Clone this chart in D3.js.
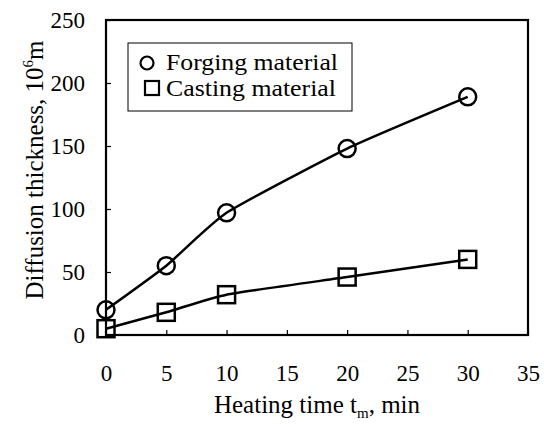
<!DOCTYPE html>
<html lang="en">
<head>
  <meta charset="UTF-8">
  <title>Diffusion thickness</title>
  <script src="https://d3js.org/d3.v7.min.js"></script>
  <style>
    body { margin: 0; background: #fff; }
    text { font-family: "Liberation Serif", "Times New Roman", serif; fill: #000; }
  </style>
</head>
<body>
  <div id="chart"></div>
  <script>
    // Data
    const heatingTime = [0, 5, 10, 20, 30];
    const forging = [20, 55, 97, 148, 189];
    const casting = [5, 18, 32, 46, 60];
    const xTicks = [0, 5, 10, 15, 20, 25, 30, 35];
    const yTicks = [0, 50, 100, 150, 200, 250];

    const W = 544, H = 427;
    const margin = { top: 20, right: 16, bottom: 92, left: 106 };

    const svg = d3.select("#chart").append("svg")
      .attr("width", W)
      .attr("height", H);

    const x = d3.scaleLinear().domain([0, 35]).range([margin.left, W - margin.right]);
    const y = d3.scaleLinear().domain([0, 250]).range([H - margin.bottom, margin.top]);

    // Frame
    svg.append("rect")
      .attr("x", x(0)).attr("y", y(250))
      .attr("width", x(35) - x(0)).attr("height", y(0) - y(250))
      .attr("fill", "none").attr("stroke", "#000").attr("stroke-width", 2.2);

    // Axes with inward ticks
    const xAxis = svg.append("g")
      .attr("transform", `translate(0,${y(0)})`)
      .call(d3.axisBottom(x).tickValues(xTicks).tickSize(-5).tickPadding(30));
    const yAxis = svg.append("g")
      .attr("transform", `translate(${x(0)},0)`)
      .call(d3.axisLeft(y).tickValues(yTicks).tickSize(-5).tickPadding(21));

    [xAxis, yAxis].forEach(g => {
      g.select(".domain").remove();
      g.attr("font-family", null).attr("font-size", null);
      g.selectAll("line").attr("stroke", "#000").attr("stroke-width", 1.2);
      g.selectAll("text")
        .style("font-family", "'Liberation Serif', serif")
        .style("font-size", "23px");
    });

    // Axis titles
    const xTitle = svg.append("text")
      .attr("x", 317).attr("y", 413)
      .attr("text-anchor", "middle")
      .style("font-size", "25px");
    xTitle.append("tspan").text("Heating time t");
    xTitle.append("tspan").attr("dy", 5).style("font-size", "15px").text("m");
    xTitle.append("tspan").attr("dy", -5).text(", min");

    const yTitle = svg.append("text")
      .attr("transform", `translate(43,170) rotate(-90)`)
      .attr("text-anchor", "middle")
      .style("font-size", "25px");
    yTitle.append("tspan").text("Diffusion thickness, 10");
    yTitle.append("tspan").attr("dy", -10).style("font-size", "15px").text("6");
    yTitle.append("tspan").attr("dy", 10).text("m");

    // Smoothed lines
    const line = d3.line()
      .x((d, i) => x(heatingTime[i]))
      .y(d => y(d))
      .curve(d3.curveCardinal.tension(0.5));

    [forging, casting].forEach(series => {
      svg.append("path")
        .datum(series)
        .attr("d", line)
        .attr("fill", "none")
        .attr("stroke", "#000")
        .attr("stroke-width", 2.5);
    });

    // Markers
    svg.selectAll(".circ")
      .data(forging)
      .enter().append("circle")
        .attr("class", "circ")
        .attr("cx", (d, i) => x(heatingTime[i]))
        .attr("cy", d => y(d))
        .attr("r", 8.5)
        .attr("fill", "none")
        .attr("stroke", "#000")
        .attr("stroke-width", 2.5);

    const sq = 17;
    svg.selectAll(".sq")
      .data(casting)
      .enter().append("rect")
        .attr("class", "sq")
        .attr("x", (d, i) => x(heatingTime[i]) - sq / 2)
        .attr("y", d => y(d) - sq / 2)
        .attr("width", sq)
        .attr("height", sq)
        .attr("fill", "none")
        .attr("stroke", "#000")
        .attr("stroke-width", 2.5);

    // Legend
    const legend = svg.append("g");
    legend.append("rect")
      .attr("x", 128).attr("y", 43)
      .attr("width", 224).attr("height", 68)
      .attr("fill", "#fff").attr("stroke", "#000").attr("stroke-width", 1);
    legend.append("circle")
      .attr("cx", 147).attr("cy", 63).attr("r", 6.5)
      .attr("fill", "none").attr("stroke", "#000").attr("stroke-width", 2.2);
    legend.append("rect")
      .attr("x", 145).attr("y", 81).attr("width", 14).attr("height", 14)
      .attr("fill", "none").attr("stroke", "#000").attr("stroke-width", 2.2);
    legend.append("text").attr("x", 166).attr("y", 70)
      .attr("textLength", 172).attr("lengthAdjust", "spacingAndGlyphs")
      .style("font-size", "23px").text("Forging material");
    legend.append("text").attr("x", 166).attr("y", 96)
      .attr("textLength", 170).attr("lengthAdjust", "spacingAndGlyphs")
      .style("font-size", "23px").text("Casting material");
  </script>
</body>
</html>
